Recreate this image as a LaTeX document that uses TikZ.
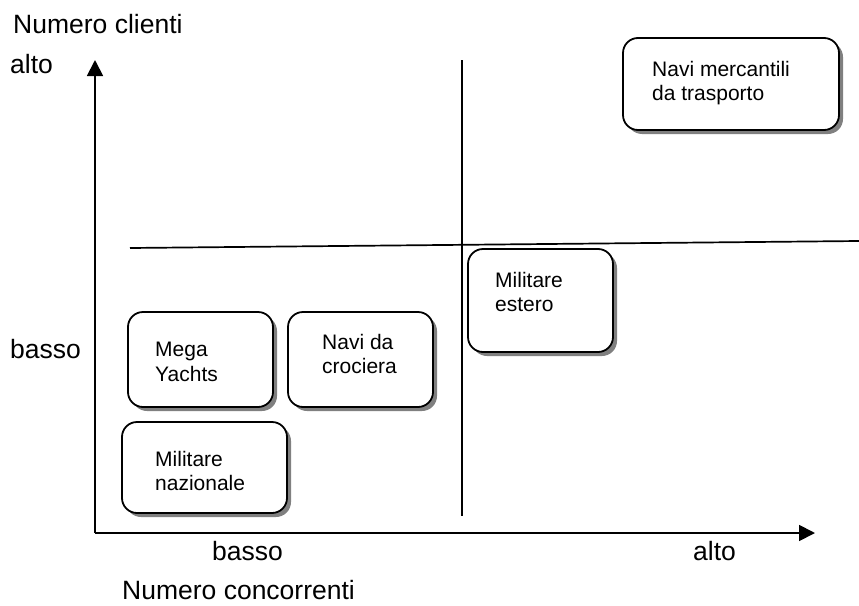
\documentclass[tikz,border=0pt]{standalone}
\usepackage{fontspec}
\setmainfont{Liberation Sans}
\usetikzlibrary{arrows.meta,shadows}
\begin{document}
\begin{tikzpicture}[x=1pt,y=-1pt,
  axis/.style={line width=1.8pt,-{Triangle[length=16pt,width=16pt]}},
  divider/.style={line width=1.7pt},
  box/.style={draw,line width=1.8pt,rounded corners=15pt,fill=white,
    drop shadow={shadow xshift=4pt,shadow yshift=-4pt,fill=black!50,opacity=1}},
  boxtext/.style={anchor=north west,inner sep=0pt,align=left,
    font=\fontsize{21}{24.5}\selectfont},
  axlabel/.style={anchor=base west,inner sep=0pt,font=\fontsize{26.5}{31}\selectfont}]
\useasboundingbox (0,0) rectangle (859,605);
% axes
\coordinate (origin) at (95,533);
\coordinate (ytip) at (95,60);
\coordinate (xtip) at (815,533);
\draw[axis] (origin) -- (ytip);
\draw[axis] (origin) -- (xtip);
% dividers
\coordinate (vtop) at (462,60);
\coordinate (vbot) at (462,516);
\coordinate (hleft) at (130,248);
\coordinate (hright) at (859,241);
\draw[divider] (vtop) -- (vbot);
\draw[divider] (hleft) -- (hright);
% boxes
\node[box,minimum width=216pt,minimum height=92pt] (b1) at (731,84) {};
\node[box,minimum width=145pt,minimum height=95pt] (b2) at (200.5,359.5) {};
\node[box,minimum width=145pt,minimum height=95pt] (b3) at (360.5,359.5) {};
\node[box,minimum width=165pt,minimum height=91pt] (b4) at (204.5,467.5) {};
\node[box,minimum width=145pt,minimum height=103pt] (b5) at (540.5,300.5) {};
\node[boxtext] (t1) at (652,61) {Navi mercantili\\da trasporto};
\node[boxtext] (t2) at (155,342) {Mega\\Yachts};
\node[boxtext] (t3) at (322,334) {Navi da\\crociera};
\node[boxtext] (t4) at (155,451) {Militare\\nazionale};
\node[boxtext] (t5) at (495,272) {Militare\\estero};
% axis labels
\node[axlabel] (ylab) at (13,33) {Numero clienti};
\node[axlabel] (yhi) at (10,73) {alto};
\node[axlabel] (ylo) at (10,358) {basso};
\node[axlabel] (xlo) at (212,560) {basso};
\node[axlabel] (xhi) at (693,560) {alto};
\node[axlabel] (xlab) at (122,599) {Numero concorrenti};
\end{tikzpicture}
\end{document}
